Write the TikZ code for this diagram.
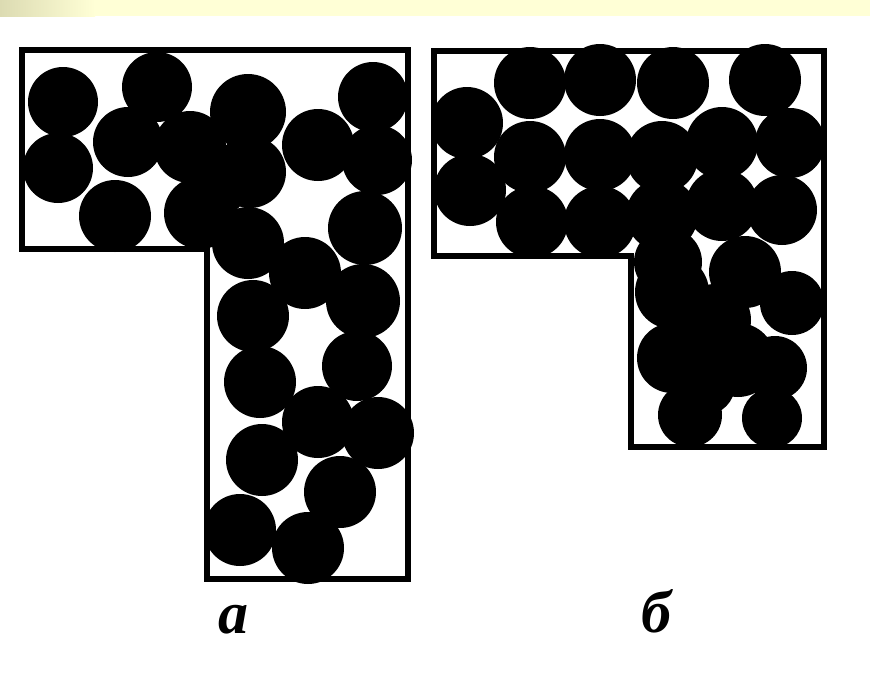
\documentclass[tikz,border=0pt]{standalone}
\usepackage{fontspec}
\setmainfont{Liberation Serif}
\definecolor{bandleft}{HTML}{DCDBB2}
\definecolor{bandright}{HTML}{FFFFD6}

\begin{document}
\begin{tikzpicture}[x=1pt, y=-1pt]
    % Define styles for balls, walls and labels
    \tikzstyle{ball} = [fill=black]
    \tikzstyle{wall} = [draw=black, line width=6pt, line join=miter]
    \tikzstyle{caption} = [font=\fontsize{60}{60}\selectfont\bfseries\itshape, anchor=base, inner sep=0pt]

    % Page frame and top band
    \useasboundingbox (0,0) rectangle (870,678);
    \fill[white] (0,0) rectangle (870,678);
    \shade[left color=bandleft, right color=bandright] (0,0) rectangle (95,16);
    \fill[bandright] (95,0) rectangle (870,16);

    % Loose packing (a)
    \foreach \x/\y/\r in {63/102/35, 157/87/35, 248/112/38, 373/97/35, 318/145/36,
        377/160/35, 58/168/35, 128/142/35, 115/216/36, 190/147/36, 200/213/36,
        250/172/36, 216/185/32, 365/228/37, 248/243/36, 305/273/36, 253/316/36,
        363/301/37, 260/382/36, 357/366/35, 318/422/36, 378/433/36, 262/460/36,
        340/492/36, 240/530/36, 308/548/36}
        \fill[ball] (\x,\y) circle (\r);

    % Dense packing (b)
    \foreach \x/\y/\r in {530/83/36, 600/80/36, 673/83/36, 765/80/36, 467/123/36,
        470/190/36, 530/157/36, 600/155/36, 662/157/36, 722/143/36, 790/143/35,
        532/222/36, 600/222/36, 662/215/36, 722/205/36, 782/210/35, 668/262/34,
        672/292/37, 745/272/36, 792/303/32, 715/320/36, 672/358/35, 738/360/37,
        705/385/30, 690/415/32, 775/368/32, 772/418/30}
        \fill[ball] (\x,\y) circle (\r);

    % Containers
    \draw[wall] (22,50) -- (408,50) -- (408,579) -- (207,579) -- (207,249) -- (22,249) -- cycle;
    \draw[wall] (434,51) -- (824,51) -- (824,447) -- (631,447) -- (631,256) -- (434,256) -- cycle;

    % Labels
    \node[caption] (lbla) at (233,633) {а};
    \node[caption] (lblb) at (656,632) {б};
\end{tikzpicture}
\end{document}
